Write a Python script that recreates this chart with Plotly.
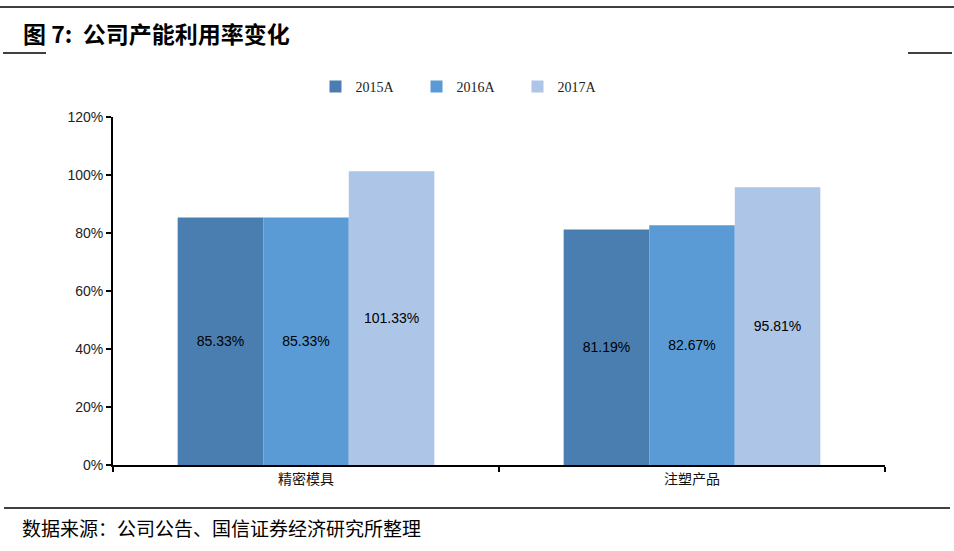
import plotly.graph_objects as go

categories = ['精密模具', '注塑产品']
years = ['2015A', '2016A', '2017A']
util_2015 = [0.8533, 0.8119]
util_2016 = [0.8533, 0.8267]
util_2017 = [1.0133, 0.9581]
colors = ['#4a7eb1', '#5b9bd5', '#adc5e6']

W, H = 954, 551
L, R, T, B = 113, 885, 117, 465


def px_x(px):
    return (px - L) / (R - L)


def px_y(py):
    return (B - py) / (B - T)


fig = go.Figure()
for name, vals, col in zip(years, [util_2015, util_2016, util_2017], colors):
    fig.add_trace(go.Bar(
        x=categories, y=vals, name=name,
        marker=dict(color=col, line=dict(width=0)),
        texttemplate='%{y:.2%}',
        textposition='inside',
        insidetextanchor='middle',
        textangle=0,
        textfont=dict(family='Arial, Liberation Sans', size=14, color='#000000'),
    ))

line_col = '#000000'
fig.update_layout(
    width=W, height=H,
    margin=dict(l=L, r=W - R, t=T, b=H - B),
    paper_bgcolor='white',
    plot_bgcolor='white',
    barmode='group',
    bargap=0.335,
    bargroupgap=0,
    showlegend=True,
    legend=dict(
        orientation='h', x=px_x(467), y=px_y(87),
        xanchor='center', yanchor='middle',
        font=dict(family='Liberation Serif, Times New Roman', size=14, color='#222222'),
        entrywidth=56, entrywidthmode='pixels',
        itemwidth=30, bgcolor='rgba(0,0,0,0)',
    ),
    yaxis=dict(
        range=[0, 1.2], dtick=0.2, tickformat='.0%',
        showgrid=False, zeroline=False,
        showline=True, linecolor=line_col, linewidth=2,
        ticks='outside', ticklen=5, tickwidth=1.5, tickcolor=line_col,
        tickfont=dict(family='Arial, Liberation Sans', size=14, color='#222222'),
        fixedrange=True,
    ),
    xaxis=dict(
        showgrid=False, zeroline=False,
        showline=True, linecolor=line_col, linewidth=2,
        ticks='outside', ticklen=5, tickwidth=1.5, tickcolor=line_col,
        tickson='boundaries',
        tickfont=dict(family='Noto Sans CJK SC', size=14, color='#111111'),
        fixedrange=True,
    ),
    shapes=[
        dict(type='line', xref='paper', yref='paper',
             x0=px_x(0), x1=px_x(954), y0=px_y(7), y1=px_y(7),
             line=dict(color='#000000', width=1.5)),
        dict(type='line', xref='paper', yref='paper',
             x0=px_x(3), x1=px_x(46), y0=px_y(53), y1=px_y(53),
             line=dict(color='#000000', width=1.5)),
        dict(type='line', xref='paper', yref='paper',
             x0=px_x(908), x1=px_x(952), y0=px_y(53), y1=px_y(53),
             line=dict(color='#000000', width=1.5)),
        dict(type='line', xref='paper', yref='paper',
             x0=px_x(4), x1=px_x(950), y0=px_y(508), y1=px_y(508),
             line=dict(color='#000000', width=1.5)),
    ],
    annotations=[
        dict(text='<b>图 7:  公司产能利用率变化</b>', xref='paper', yref='paper',
             x=px_x(21), y=px_y(33), xanchor='left', yanchor='middle',
             showarrow=False,
             font=dict(family='Noto Sans CJK SC', size=23, color='#000000')),
        dict(text='数据来源：公司公告、国信证券经济研究所整理', xref='paper', yref='paper',
             x=px_x(20), y=px_y(527), xanchor='left', yanchor='middle',
             showarrow=False,
             font=dict(family='Noto Sans CJK SC', size=19, color='#000000')),
    ],
)

# page body has an 8px default margin; drop it so the figure sits at 0,0
fig.write_html('out.html', config=dict(displayModeBar=False),
               post_script="document.body.style.margin='0';")
